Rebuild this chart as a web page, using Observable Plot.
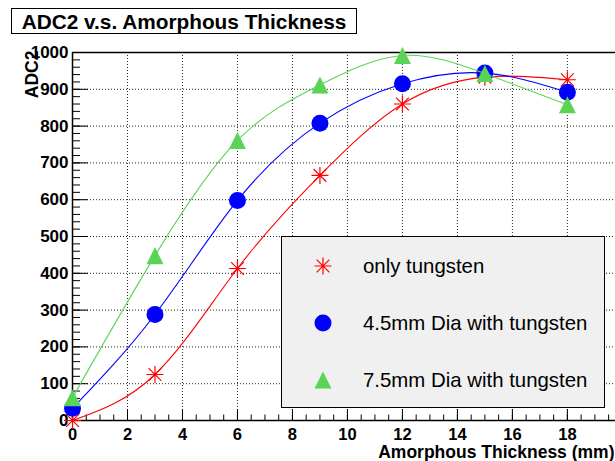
<!DOCTYPE html>
<html>
<head>
<meta charset="utf-8">
<script src="https://cdn.jsdelivr.net/npm/d3@7"></script>
<script src="https://cdn.jsdelivr.net/npm/@observablehq/plot@0.6"></script>
<style>
  html, body { margin: 0; padding: 0; background: #fff; }
  body { font-family: "Liberation Sans", Arial, Helvetica, sans-serif; }
  #wrap { position: relative; width: 615px; height: 461px; overflow: hidden; }
  #title {
    position: absolute; left: 11px; top: 8px; width: 344px; height: 24px;
    border: 1px solid #000; background: #fff;
    font-weight: bold; font-size: 20.8px; line-height: 25px; text-align: center;
  }
  #chart { position: absolute; left: 0; top: 40px; }
  #legend {
    position: absolute; left: 281px; top: 236px; width: 322px; height: 170px;
    border: 1px solid #000; background: #f0f0f0;
  }
  .entry { position: absolute; left: 0; height: 30px; width: 100%; }
  .entry svg { position: absolute; left: 29px; top: 3px; }
  .entry span { position: absolute; left: 81px; top: 0; line-height: 30px; font-size: 20.4px; color: #000; white-space: nowrap; }
</style>
</head>
<body>
<div id="wrap">
  <div id="title">ADC2 v.s. Amorphous Thickness</div>
  <div id="chart"></div>
  <div id="legend"></div>
</div>
<script>
// Amorphous thickness (mm) at which ADC2 was measured
const thickness = [0, 3, 6, 9, 12, 15, 18];
// ADC2 readings for each configuration
const onlyTungsten = [0, 125, 413, 666, 860, 933, 926];
const dia45WithTungsten = [33, 288, 598, 808, 915, 944, 892];
const dia75WithTungsten = [62, 448, 761, 912, 992, 943, 858];

const seriesNames = ["only tungsten", "4.5mm Dia with tungsten", "7.5mm Dia with tungsten"];
const seriesColors = ["#ff0000", "#0000ff", "#59d454"];

const xMajorTicks = [0, 2, 4, 6, 8, 10, 12, 14, 16, 18];
const yMajorTicks = [0, 100, 200, 300, 400, 500, 600, 700, 800, 900, 1000];
const xMinorTicks = d3.range(0, 19.75, 0.5);
const yMinorTicks = d3.range(0, 1001, 20);

// Marker shapes: eight-armed star, filled upward triangle
const starSymbol = {
  draw(ctx, size) {
    const r = Math.sqrt(size / Math.PI), d = r * 0.75;
    ctx.moveTo(-r, 0); ctx.lineTo(r, 0);
    ctx.moveTo(0, -r); ctx.lineTo(0, r);
    ctx.moveTo(-d, -d); ctx.lineTo(d, d);
    ctx.moveTo(-d, d); ctx.lineTo(d, -d);
  }
};
const triangleSymbol = {
  draw(ctx, size) {
    const r = Math.sqrt(size / Math.PI);
    ctx.moveTo(0, -r); ctx.lineTo(r, r); ctx.lineTo(-r, r); ctx.closePath();
  }
};
const seriesSymbols = [starSymbol, "circle", triangleSymbol];
const seriesValues = [onlyTungsten, dia45WithTungsten, dia75WithTungsten];

const series = seriesNames.map((name, i) => ({
  name, color: seriesColors[i], symbol: seriesSymbols[i],
  rows: thickness.map((t, j) => ({thickness: t, adc: seriesValues[i][j]}))
}));

const font = "Liberation Sans, Arial, Helvetica, sans-serif";
const markerR = 8.5;

const seriesMarks = series.flatMap(s => [
  Plot.line(s.rows, {x: "thickness", y: "adc", curve: "natural", stroke: s.color, strokeWidth: 1.1}),
  s.symbol === starSymbol
    ? Plot.dot(s.rows, {x: "thickness", y: "adc", symbol: s.symbol, r: markerR, stroke: s.color, fill: "none", strokeWidth: 1.2})
    : Plot.dot(s.rows, {x: "thickness", y: "adc", symbol: s.symbol, r: markerR, fill: s.color, stroke: "none"})
]);

const chart = Plot.plot({
  width: 615,
  height: 421,
  marginLeft: 72,
  marginRight: 0,
  marginTop: 12,
  marginBottom: 41,
  style: {fontFamily: font, background: "transparent", overflow: "visible"},
  x: {domain: [0, 19.75]},
  y: {domain: [0, 1000]},
  marks: [
    Plot.gridX(xMajorTicks.filter(d => d > 0), {stroke: "#000", strokeOpacity: 0.85, strokeDasharray: "1,2"}),
    Plot.gridY(yMajorTicks.filter(d => d > 0), {stroke: "#000", strokeOpacity: 0.85, strokeDasharray: "1,2"}),
    // inward tick marks
    Plot.axisX(xMinorTicks, {tickSize: -5.5, tickFormat: () => "", label: null, stroke: "#000"}),
    Plot.axisX(xMajorTicks, {tickSize: -11, tickFormat: () => "", label: null, stroke: "#000"}),
    Plot.axisY(yMinorTicks, {tickSize: -8, tickFormat: () => "", label: null, stroke: "#000"}),
    Plot.axisY(yMajorTicks, {tickSize: -16, tickFormat: () => "", label: null, stroke: "#000"}),
    // tick labels
    Plot.axisX(xMajorTicks, {tickSize: 0, tickPadding: 8, label: null, fontSize: 16.5, fontWeight: "bold", fill: "#000", tickFormat: d => String(d)}),
    Plot.axisY(yMajorTicks, {tickSize: 0, tickPadding: 4, label: null, fontSize: 17, fontWeight: "bold", fill: "#000", tickFormat: d => String(d)}),
    // frame lines
    Plot.ruleY([0], {stroke: "#000", strokeWidth: 1.5}),
    Plot.ruleY([1000], {stroke: "#000", strokeWidth: 1.5}),
    Plot.ruleX([0], {stroke: "#000", strokeWidth: 1.5}),
    ...seriesMarks,
    // axis titles
    Plot.text(["Amorphous Thickness (mm)"], {frameAnchor: "bottom-right", textAnchor: "end", lineAnchor: "bottom", dx: -1, dy: 37, fontSize: 17.5, fontWeight: "bold", fill: "#000"}),
    Plot.text(["ADC2"], {frameAnchor: "top-left", rotate: -90, textAnchor: "end", lineAnchor: "middle", dx: -40.5, dy: -2, fontSize: 17.5, fontWeight: "bold", fill: "#000"})
  ]
});
document.getElementById("chart").appendChild(chart);

// legend box
const legend = d3.select("#legend");
const rowTops = [14, 71, 128];
series.forEach((s, i) => {
  const row = legend.append("div").attr("class", "entry").style("top", rowTops[i] + "px");
  const svg = row.append("svg").attr("width", 24).attr("height", 24);
  const path = d3.symbol().type(s.symbol === "circle" ? d3.symbolCircle : s.symbol).size(Math.PI * markerR * markerR)();
  const g = svg.append("path").attr("transform", "translate(12,12)").attr("d", path);
  if (s.symbol === starSymbol) g.attr("fill", "none").attr("stroke", s.color).attr("stroke-width", 1.2);
  else g.attr("fill", s.color);
  row.append("span").text(s.name);
});
</script>
</body>
</html>
